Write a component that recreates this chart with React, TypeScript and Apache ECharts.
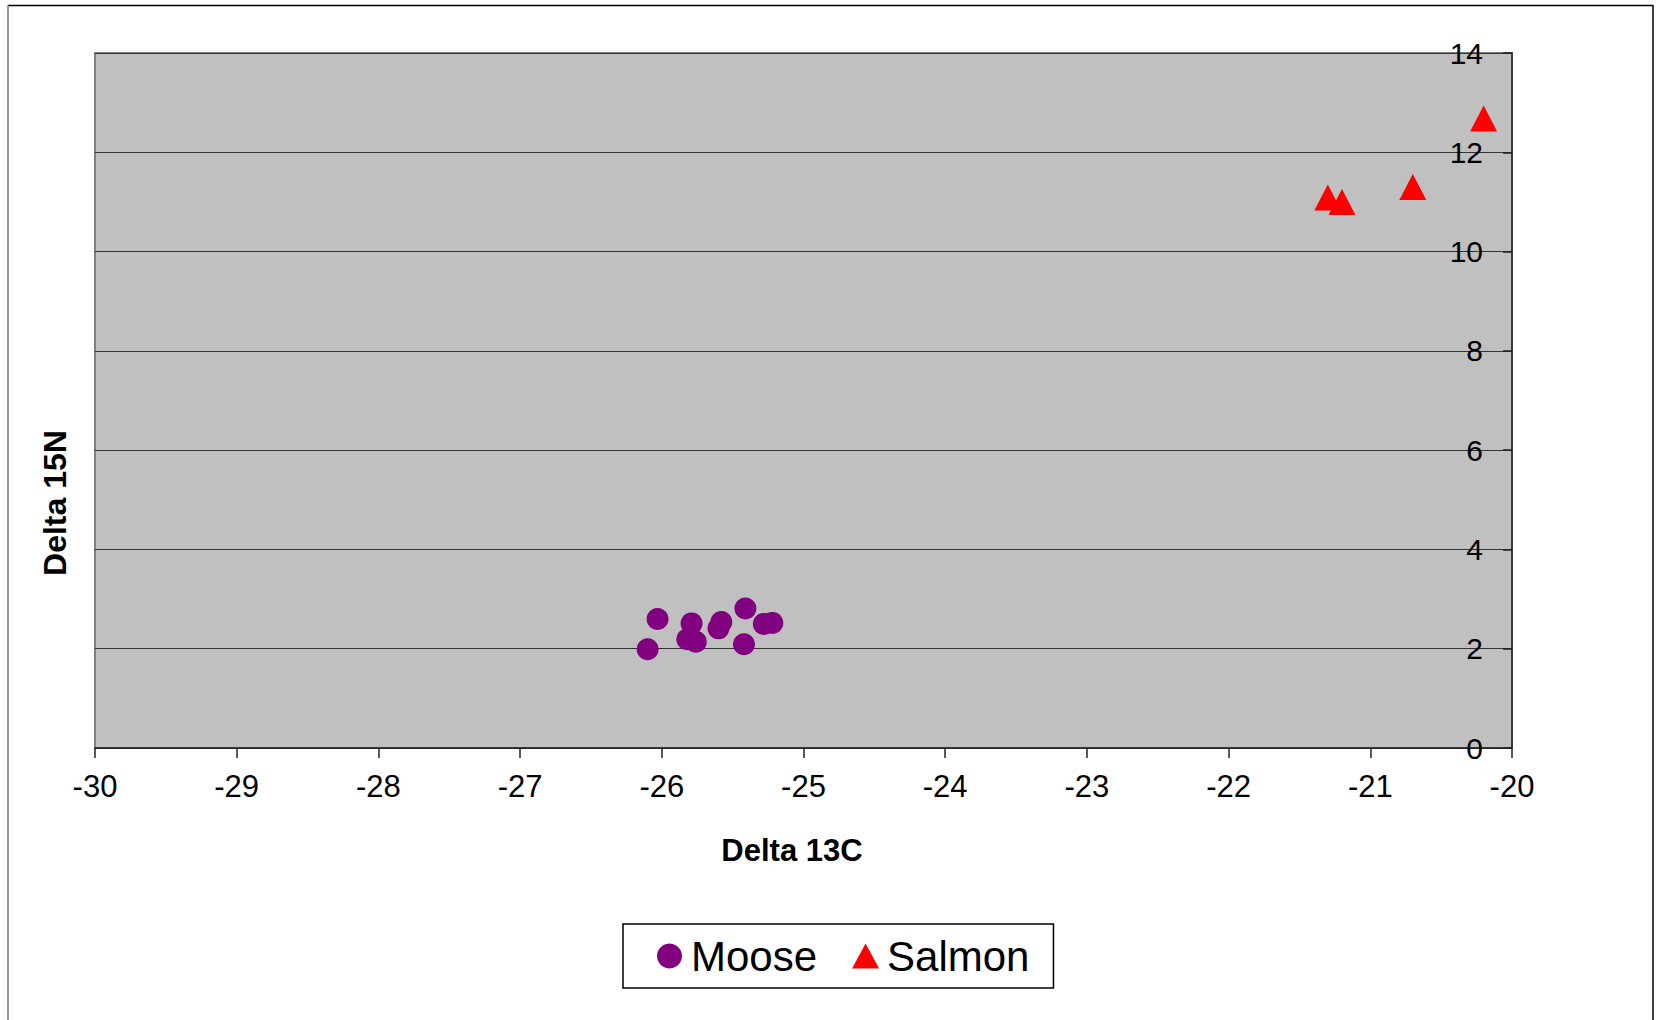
import React, { useEffect, useRef } from "react";
import * as echarts from "echarts";

const moose: [number, number][] = [
  [-26.03, 2.6],
  [-26.1, 1.99],
  [-25.79, 2.51],
  [-25.82, 2.19],
  [-25.76, 2.14],
  [-25.58, 2.54],
  [-25.6, 2.41],
  [-25.41, 2.81],
  [-25.42, 2.09],
  [-25.28, 2.5],
  [-25.22, 2.52],
];

const salmon: [number, number][] = [
  [-20.2, 12.68],
  [-21.3, 11.09],
  [-21.2, 11.0],
  [-20.7, 11.3],
];

const xRange = { min: -30, max: -20, interval: 1 };
const yRange = { min: 0, max: 14, interval: 2 };

const FONT = "'Liberation Sans', Arial, Helvetica, sans-serif";

export default function App() {
  const ref = useRef<HTMLDivElement>(null);
  useEffect(() => {
    if (!ref.current) return;
    const chart = echarts.init(ref.current, undefined, { renderer: "svg" });
    chart.setOption({
      animation: false,
      backgroundColor: "#ffffff",
      textStyle: { fontFamily: FONT },
      grid: {
        left: 95,
        top: 53,
        right: 147,
        bottom: 272,
        show: true,
        backgroundColor: "#C0C0C0",
        borderColor: "#808080",
        borderWidth: 2,
      },
      xAxis: {
        type: "value",
        min: xRange.min,
        max: xRange.max,
        interval: xRange.interval,
        axisLine: { show: true, onZero: false, lineStyle: { color: "#222", width: 1.5 } },
        axisTick: { show: true, length: 10, lineStyle: { color: "#222", width: 1.5 } },
        axisLabel: { color: "#000", fontSize: 31, margin: 23, fontFamily: FONT },
        splitLine: { show: false },
      },
      yAxis: {
        type: "value",
        position: "right",
        min: yRange.min,
        max: yRange.max,
        interval: yRange.interval,
        axisLine: { show: true, onZero: false, lineStyle: { color: "#222", width: 1.5 } },
        axisTick: { show: true, inside: true, length: 9, lineStyle: { color: "#222", width: 1.5 } },
        axisLabel: { inside: true, color: "#000", fontSize: 30, margin: 29, fontFamily: FONT },
        splitLine: { show: true, lineStyle: { color: "#333", width: 1.2 } },
      },
      legend: {
        left: 623,
        top: 924,
        orient: "horizontal",
        data: [
          { name: "Moose", icon: "circle" },
          { name: "Salmon", icon: "triangle" },
        ],
        itemWidth: 27,
        itemHeight: 25,
        itemGap: 35,
        padding: [11, 24, 11, 34],
        borderColor: "#000",
        borderWidth: 1.5,
        backgroundColor: "#fff",
        textStyle: { fontSize: 42, color: "#000", fontFamily: FONT, padding: [0, 0, 0, 3] },
      },
      graphic: [
        {
          type: "line",
          shape: { x1: 8, y1: 5.5, x2: 1653, y2: 5.5 },
          style: { stroke: "#000", lineWidth: 1.5 },
          silent: true,
        },
        {
          type: "line",
          shape: { x1: 1653, y1: 5, x2: 1653, y2: 1030 },
          style: { stroke: "#000", lineWidth: 1.5 },
          silent: true,
        },
        {
          type: "line",
          shape: { x1: 8, y1: 5, x2: 8, y2: 1030 },
          style: { stroke: "#777", lineWidth: 1.5 },
          silent: true,
        },
        {
          type: "text",
          x: 792,
          y: 850,
          style: {
            text: "Delta 13C",
            fontSize: 31,
            fontWeight: "bold",
            fontFamily: FONT,
            fill: "#000",
            textAlign: "center",
            textVerticalAlign: "middle",
          },
        },
        {
          type: "text",
          x: 55,
          y: 503,
          rotation: Math.PI / 2,
          style: {
            text: "Delta 15N",
            fontSize: 32,
            fontWeight: "bold",
            fontFamily: FONT,
            fill: "#000",
            textAlign: "center",
            textVerticalAlign: "middle",
          },
        },
      ],
      series: [
        {
          name: "Moose",
          type: "scatter",
          data: moose,
          symbol: "circle",
          symbolSize: 22,
          itemStyle: { color: "#800080", opacity: 1 },
        },
        {
          name: "Salmon",
          type: "scatter",
          data: salmon,
          symbol: "triangle",
          symbolSize: [27, 26],
          itemStyle: { color: "#FF0000", opacity: 1 },
        },
      ],
    });
    return () => chart.dispose();
  }, []);
  return (
    <div
      ref={ref}
      style={{ position: "absolute", left: 0, top: 0, width: 1659, height: 1020 }}
    />
  );
}
